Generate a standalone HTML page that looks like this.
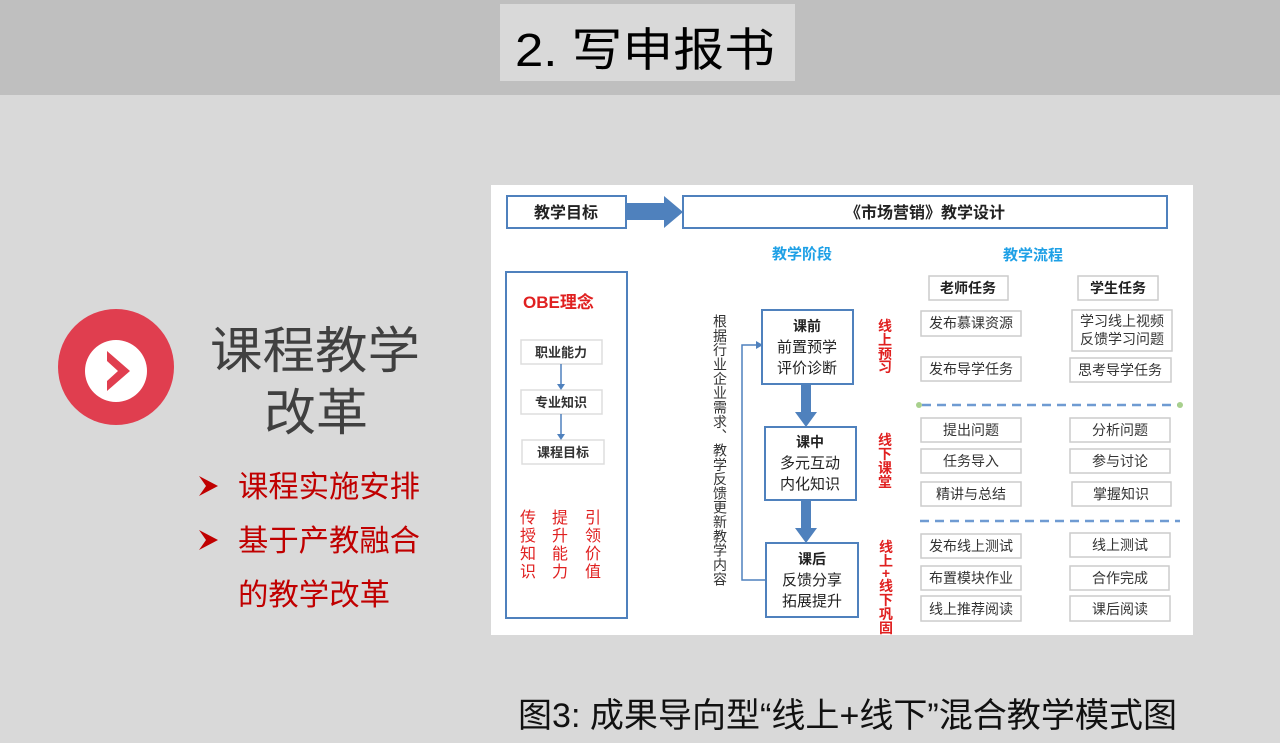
<!DOCTYPE html>
<html><head><meta charset="utf-8"><style>
html,body{margin:0;padding:0;width:1280px;height:743px;overflow:hidden;background:#d9d9d9}
svg{display:block}
text{font-family:"Liberation Sans","Noto Sans CJK SC",sans-serif}
</style></head><body>
<svg width="1280" height="743" viewBox="0 0 1280 743" xmlns="http://www.w3.org/2000/svg">
<rect x="0" y="0" width="1280" height="95" fill="#bfbfbf"/>
<rect x="500" y="4" width="295" height="77" fill="#d9d9d9"/>
<text x="515" y="66" font-size="46" fill="#000" textLength="260" lengthAdjust="spacingAndGlyphs">2. 写申报书</text>

<circle cx="116" cy="367" r="58" fill="#e03e4f"/>
<ellipse cx="116" cy="371" rx="31" ry="31" fill="#fff"/>
<polygon points="107,351 130,371 107,391 107,381 118,371 107,361" fill="#e03e4f"/>

<text x="210" y="368" font-size="50" fill="#404040" textLength="210" lengthAdjust="spacingAndGlyphs">课程教学</text>
<text x="264" y="430" font-size="50" fill="#404040" textLength="104" lengthAdjust="spacingAndGlyphs">改革</text>
<polygon points="199,476 218,486 199,496 206,486" fill="#c00000"/>
<text x="238" y="497" font-size="30" fill="#c00000" textLength="182" lengthAdjust="spacingAndGlyphs">课程实施安排</text>
<polygon points="199,530 218,540 199,550 206,540" fill="#c00000"/>
<text x="238" y="551" font-size="30" fill="#c00000" textLength="182" lengthAdjust="spacingAndGlyphs">基于产教融合</text>
<text x="238" y="605" font-size="30" fill="#c00000" textLength="152" lengthAdjust="spacingAndGlyphs">的教学改革</text>

<rect x="491" y="185" width="702" height="450" fill="#fff"/>
<g fill="none" stroke="#4f81bd" stroke-width="2">
<rect x="507" y="196" width="119" height="32"/>
<rect x="683" y="196" width="484" height="32"/>
<rect x="506" y="272" width="121" height="346"/>
<rect x="762" y="310" width="91" height="74"/>
<rect x="765" y="427" width="91" height="73"/>
<rect x="766" y="543" width="92" height="74"/>
</g>
<polygon points="627,203 664,203 664,196 683,212 664,228 664,220 627,220" fill="#4f81bd"/>
<text x="566" y="218" font-size="16" font-weight="bold" fill="#222" text-anchor="middle">教学目标</text>
<text x="925" y="218" font-size="16" font-weight="bold" fill="#222" text-anchor="middle">《市场营销》教学设计</text>
<text x="802" y="259" font-size="15" font-weight="bold" fill="#1ea0e6" text-anchor="middle">教学阶段</text>
<text x="1033" y="260" font-size="15" font-weight="bold" fill="#1ea0e6" text-anchor="middle">教学流程</text>

<text x="523" y="308" font-size="17" font-weight="bold" fill="#e02020">OBE理念</text>
<g fill="#fff" stroke="#ddd" stroke-width="1.5">
<rect x="521" y="340" width="81" height="24"/><rect x="521" y="390" width="81" height="24"/><rect x="522" y="440" width="82" height="24"/>
</g>
<g font-size="13" font-weight="bold" fill="#333" text-anchor="middle">
<text x="561" y="357">职业能力</text><text x="561" y="407">专业知识</text><text x="563" y="457">课程目标</text>
</g>
<g stroke="#4f81bd" stroke-width="1.5"><line x1="561" y1="364" x2="561" y2="386"/><line x1="561" y1="414" x2="561" y2="436"/></g>
<g fill="#4f81bd"><polygon points="557,384 565,384 561,390"/><polygon points="557,434 565,434 561,440"/></g>
<g font-size="16" fill="#e02020" text-anchor="middle">
<text x="528" y="523">传</text><text x="528" y="541">授</text><text x="528" y="559">知</text><text x="528" y="577">识</text>
<text x="560" y="523">提</text><text x="560" y="541">升</text><text x="560" y="559">能</text><text x="560" y="577">力</text>
<text x="593" y="523">引</text><text x="593" y="541">领</text><text x="593" y="559">价</text><text x="593" y="577">值</text>
</g>
<text font-size="14" fill="#333" x="720" y="314" textLength="272" lengthAdjust="spacingAndGlyphs" style="writing-mode:vertical-rl">根据行业企业需求、教学反馈更新教学内容</text>
<polyline points="766,580 742,580 742,345 758,345" fill="none" stroke="#4f81bd" stroke-width="1.5"/>
<polygon points="756,341 763,345 756,349" fill="#4f81bd"/>
<g fill="#4f81bd">
<polygon points="801,384 811,384 811,412 817,412 806,427 795,412 801,412"/>
<polygon points="801,500 811,500 811,528 817,528 806,543 795,528 801,528"/>
</g>
<g font-size="15" fill="#222" text-anchor="middle">
<text x="807" y="331" font-weight="bold" font-size="14">课前</text><text x="807" y="352">前置预学</text><text x="807" y="373">评价诊断</text>
<text x="810" y="447" font-weight="bold" font-size="14">课中</text><text x="810" y="468">多元互动</text><text x="810" y="489">内化知识</text>
<text x="812" y="564" font-weight="bold" font-size="14">课后</text><text x="812" y="585">反馈分享</text><text x="812" y="606">拓展提升</text>
</g>
<g font-size="14" font-weight="bold" fill="#e02020" text-anchor="middle">
<text x="885" y="331">线</text><text x="885" y="345">上</text><text x="885" y="359">预</text><text x="885" y="372">习</text>
<text x="885" y="445">线</text><text x="885" y="459">下</text><text x="885" y="473">课</text><text x="885" y="487">堂</text>
<text x="886" y="552">线</text><text x="886" y="566">上</text><text x="886" y="578">+</text><text x="886" y="591">线</text><text x="886" y="605">下</text><text x="886" y="619">巩</text><text x="886" y="633">固</text>
</g>
<g fill="#fff" stroke="#ccc" stroke-width="1.5">
<rect x="929" y="276" width="79" height="24"/><rect x="1078" y="276" width="80" height="24"/>
<rect x="921" y="311" width="100" height="25"/><rect x="1072" y="310" width="100" height="41"/>
<rect x="921" y="357" width="100" height="24"/><rect x="1070" y="358" width="101" height="24"/>
<rect x="921" y="418" width="100" height="24"/><rect x="1070" y="418" width="100" height="24"/>
<rect x="921" y="449" width="100" height="24"/><rect x="1070" y="449" width="100" height="24"/>
<rect x="921" y="482" width="100" height="24"/><rect x="1072" y="482" width="99" height="24"/>
<rect x="921" y="534" width="100" height="24"/><rect x="1070" y="533" width="100" height="24"/>
<rect x="921" y="566" width="100" height="24"/><rect x="1070" y="566" width="99" height="24"/>
<rect x="921" y="596" width="100" height="25"/><rect x="1070" y="596" width="100" height="25"/>
</g>
<g font-size="14" font-weight="bold" fill="#222" text-anchor="middle">
<text x="968" y="293">老师任务</text><text x="1118" y="293">学生任务</text>
</g>
<g font-size="14" fill="#333" text-anchor="middle">
<text x="971" y="328">发布慕课资源</text><text x="1122" y="326">学习线上视频</text><text x="1122" y="344">反馈学习问题</text>
<text x="971" y="374">发布导学任务</text><text x="1120" y="375">思考导学任务</text>
<text x="971" y="435">提出问题</text><text x="1120" y="435">分析问题</text>
<text x="971" y="466">任务导入</text><text x="1120" y="466">参与讨论</text>
<text x="971" y="499">精讲与总结</text><text x="1121" y="499">掌握知识</text>
<text x="971" y="551">发布线上测试</text><text x="1120" y="550">线上测试</text>
<text x="971" y="583">布置模块作业</text><text x="1120" y="583">合作完成</text>
<text x="971" y="614">线上推荐阅读</text><text x="1120" y="614">课后阅读</text>
</g>
<g stroke="#6f9bd2" stroke-width="2.5" stroke-dasharray="9,6">
<line x1="922" y1="405" x2="1178" y2="405"/><line x1="920" y1="521" x2="1180" y2="521"/>
</g>
<circle cx="919" cy="405" r="3" fill="#a8d08d"/><circle cx="1180" cy="405" r="3" fill="#a8d08d"/>

<text x="518" y="727" font-size="34" fill="#111" textLength="659" lengthAdjust="spacingAndGlyphs">图3: 成果导向型“线上+线下”混合教学模式图</text>
</svg>
</body></html>
